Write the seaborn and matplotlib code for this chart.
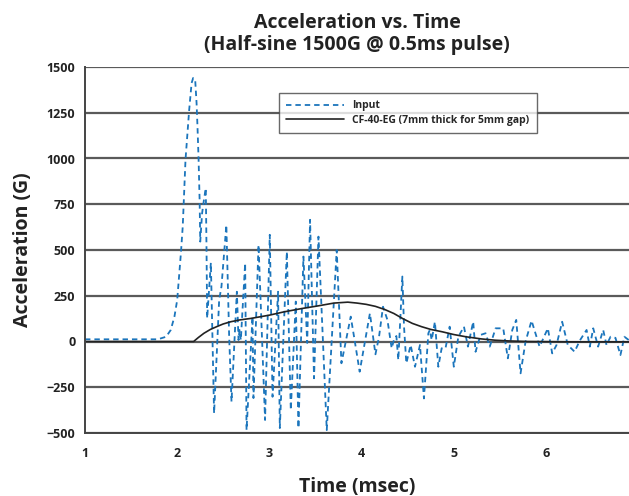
import numpy as np
import pandas as pd
import matplotlib
matplotlib.use("Agg")
import matplotlib.pyplot as plt
import seaborn as sns

# input pulse
input_time = [1.00, 1.79, 1.88, 1.93, 1.97, 2.00, 2.04, 2.06, 2.09, 2.13, 2.156, 2.173,
              2.195, 2.21, 2.22, 2.232, 2.243, 2.25, 2.27, 2.29, 2.31, 2.318, 2.325,
              2.365, 2.40, 2.455, 2.48, 2.533, 2.563, 2.589, 2.647, 2.665, 2.676, 2.69,
              2.737, 2.752, 2.817, 2.827, 2.882, 2.953, 3.004, 3.034, 3.094, 3.113,
              3.189, 3.232, 3.286, 3.315, 3.369, 3.41, 3.441, 3.484, 3.532, 3.622,
              3.73, 3.781, 3.882, 3.918, 3.979, 4.09, 4.15, 4.189, 4.232, 4.28, 4.326,
              4.35, 4.377, 4.398, 4.442, 4.46, 4.485, 4.532, 4.579, 4.633, 4.676, 4.724,
              4.74, 4.76, 4.795, 4.832, 4.868, 4.91, 4.955, 5.0, 5.049, 5.11, 5.153,
              5.21, 5.236, 5.29, 5.345, 5.39, 5.453, 5.536, 5.586, 5.634, 5.677, 5.724,
              5.778, 5.843, 5.93, 6.02, 6.067, 6.114, 6.175, 6.236, 6.31, 6.365, 6.44,
              6.475, 6.512, 6.565, 6.62, 6.656, 6.70, 6.753, 6.807, 6.85, 6.897]
input_g = [12, 12, 26, 63, 136, 227, 482, 628, 993, 1266, 1412, 1440,
           1430, 1303, 1175, 993, 774, 546, 701, 774, 838, 500, 127,
           430, -393, 227, 300, 637, 36, -329, 272, 8, 63, 8,
           428, -484, 136, -309, 528, -429, 583, -302, 272, -473,
           491, -375, 218, -473, 464, -8, 665, -201, 573, -484,
           500, -119, 136, 26, -165, 154, -70, 26, 190, 118, -37,
           8, 30, -101, 355, 81, -119, -19, -138, -19, -311, 45,
           63, 8, 108, -138, -37, -37, 81, -138, 26, 81, -28,
           108, -56, 36, 45, -28, 72, 72, -92, 63, 118, -174,
           0, 114, -28, 72, -65, -19, 108, -19, -56, 4, 63,
           -28, 72, -28, 63, -19, 26, 20, -74, 26, 8]

# CF-40-EG response
cf_time = [1.00, 2.178, 2.23, 2.29, 2.36, 2.437, 2.50, 2.581, 2.68, 2.798, 3.0, 3.159,
           3.35, 3.52, 3.70, 3.85, 3.95, 4.05, 4.15, 4.25, 4.35, 4.45, 4.55, 4.65,
           4.75, 4.875, 5.0, 5.13, 5.3, 5.45, 5.6, 5.8, 6.3, 6.9]
cf_g = [0, 0, 22, 45, 66, 83, 96, 108, 118, 126, 144, 162,
        180, 194, 210, 215, 210, 203, 192, 175, 153, 124, 99, 81,
        66, 53, 38, 26, 14, 7, 3, 0, -2, -2]

input_df = pd.DataFrame({"time": input_time, "g": input_g})
cf_df = pd.DataFrame({"time": cf_time, "g": cf_g})

sns.set_style("white")
plt.rcParams['font.family'] = ['Open Sans', 'DejaVu Sans']

fig = plt.figure(figsize=(6.29, 4.96), dpi=100)
ax = fig.add_axes([85 / 629, 63 / 496, 544 / 629, 366 / 496])

sns.lineplot(data=input_df, x="time", y="g", ax=ax, sort=False, estimator=None,
             color="#1b75bc", linewidth=1.3, linestyle=(0, (3, 2.2)), label="Input")
sns.lineplot(data=cf_df, x="time", y="g", ax=ax, sort=False, estimator=None,
             color="#222222", linewidth=1.2, label="CF-40-EG (7mm thick for 5mm gap)")

ax.set_xlim(1, 6.9)
ax.set_ylim(-500, 1500)
ax.set_xticks(range(1, 7))
ax.set_yticks(range(-500, 1501, 250))
ax.yaxis.grid(True, color="#5a5a5a", linewidth=1.6)
ax.set_axisbelow(True)

for s in ["top", "right"]:
    ax.spines[s].set_visible(False)
for s in ["left", "bottom"]:
    ax.spines[s].set_color("#444444")
    ax.spines[s].set_linewidth(1.4)

ax.tick_params(axis="y", length=4, width=1.2, color="#444444", pad=3, labelsize=9)
ax.tick_params(axis="x", length=0, pad=10, labelsize=9)
for lbl in ax.get_xticklabels() + ax.get_yticklabels():
    lbl.set_fontweight("bold")
    lbl.set_color("#222222")

ax.set_xlabel("Time (msec)", fontsize=14, fontweight="bold", labelpad=12, color="#222222")
ax.set_ylabel("Acceleration (G)", fontsize=14, fontweight="bold", labelpad=10, color="#222222")
ax.set_title("Acceleration vs. Time\n(Half-sine 1500G @ 0.5ms pulse)",
             fontsize=14, fontweight="bold", pad=12, color="#222222", linespacing=1.15)

leg = ax.legend(loc="upper left", bbox_to_anchor=(0.357, 0.929), borderaxespad=0,
                fontsize=7.5, frameon=True, fancybox=False, handlelength=5.5,
                borderpad=0.7, labelspacing=0.35)
leg.get_frame().set_edgecolor("#444444")
leg.get_frame().set_linewidth(1.0)
for t in leg.get_texts():
    t.set_fontweight("bold")

fig.savefig("out.png", dpi=100)
